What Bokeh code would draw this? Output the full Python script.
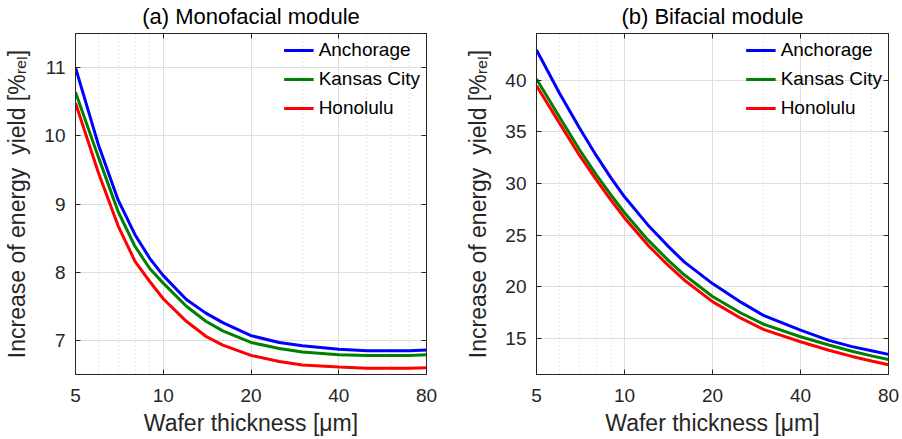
from bokeh.plotting import figure
from bokeh.models import (FixedTicker, PrintfTickFormatter, LogAxis, LinearAxis,
                          Legend, LegendItem, Range1d, CustomLabelingPolicy)
from bokeh.layouts import row
from bokeh.embed import file_html
from bokeh.resources import INLINE

# ---------------- data ----------------
thickness = [5, 6, 7, 8, 9, 10, 12, 14, 16, 20, 25, 30, 40, 50, 60, 70, 80]

mono_anchorage = [11.0, 9.86, 9.06, 8.55, 8.20, 7.95, 7.60, 7.40, 7.26, 7.07, 6.97, 6.92, 6.87, 6.85, 6.85, 6.85, 6.86]
mono_kansas    = [10.64, 9.68, 8.89, 8.38, 8.05, 7.84, 7.50, 7.28, 7.14, 6.97, 6.88, 6.83, 6.79, 6.78, 6.78, 6.78, 6.79]
mono_honolulu  = [10.48, 9.45, 8.68, 8.16, 7.86, 7.61, 7.28, 7.06, 6.93, 6.78, 6.69, 6.64, 6.61, 6.59, 6.59, 6.59, 6.60]

bi_anchorage = [42.9, 38.7, 35.4, 32.7, 30.5, 28.7, 26.0, 24.0, 22.4, 20.3, 18.5, 17.2, 15.8, 14.8, 14.2, 13.8, 13.45]
bi_kansas    = [40.1, 36.4, 33.3, 30.85, 28.85, 27.15, 24.55, 22.65, 21.15, 19.05, 17.45, 16.35, 15.15, 14.35, 13.75, 13.3, 12.95]
bi_honolulu  = [39.45, 35.8, 32.75, 30.35, 28.35, 26.65, 24.05, 22.15, 20.65, 18.55, 16.95, 15.85, 14.67, 13.85, 13.25, 12.8, 12.45]

cities = ["Anchorage", "Kansas City", "Honolulu"]
colors = ["#0000ff", "#008000", "#ff0000"]

x_major_ticks = [5, 10, 20, 40, 80]
x_minor_ticks = [6, 7, 8, 9, 30, 50, 60, 70]
mono_yticks = [7, 8, 9, 10, 11]
bi_yticks = [15, 20, 25, 30, 35, 40]

titles = ["(a) Monofacial module", "(b) Bifacial module"]
x_label = "Wafer thickness [\u03bcm]"
y_label = "Increase of energy \u00a0yield [%\u1d63\u2091\u2097]"

FONT = "Liberation Sans"
AX = "#262626"

NO_LABELS = """
for (const i of indices)
    indices.unset(i)
return indices
"""


def make_panel(title, series, yrange, yticks, border_left, border_right):
    p = figure(width=451, height=439, x_axis_type="log",
               x_range=Range1d(5, 80), y_range=Range1d(*yrange),
               output_backend="svg", toolbar_location=None,
               min_border_left=border_left, min_border_right=border_right,
               min_border_top=33, min_border_bottom=65)
    p.background_fill_color = "white"
    p.border_fill_color = "white"
    p.outline_line_color = AX
    p.outline_line_width = 1

    p.title.text = title
    p.title.align = "center"
    p.title.offset = -16
    p.title.text_font = FONT
    p.title.text_font_size = "22px"
    p.title.text_font_style = "normal"
    p.title.text_color = "#000000"
    p.title.standoff = 1

    xt = FixedTicker(ticks=x_major_ticks, minor_ticks=x_minor_ticks)
    yt = FixedTicker(ticks=yticks)

    xa = p.xaxis[0]
    xa.ticker = xt
    xa.formatter = PrintfTickFormatter(format="%d")
    ya = p.yaxis[0]
    ya.ticker = yt
    for ax in (xa, ya):
        ax.axis_line_color = AX
        ax.major_tick_line_color = AX
        ax.major_tick_in = 5
        ax.major_tick_out = 0
        ax.minor_tick_line_color = None
        ax.major_label_text_font = FONT
        ax.major_label_text_font_size = "19px"
        ax.major_label_text_color = AX
        ax.axis_label_text_font = FONT
        ax.axis_label_text_font_size = "23px"
        ax.axis_label_text_font_style = "normal"
        ax.axis_label_text_color = AX
    xa.axis_label = x_label
    xa.major_label_standoff = 10
    xa.axis_label_standoff = 5
    ya.axis_label = y_label
    ya.major_label_standoff = 10
    ya.axis_label_standoff = 11

    # box ticks on top and right (no labels)
    top = LogAxis(ticker=xt, major_label_policy=CustomLabelingPolicy(code=NO_LABELS),
                  major_label_text_font_size="0px",
                  major_label_standoff=0, major_tick_in=5, major_tick_out=0,
                  minor_tick_line_color=None, axis_line_color=AX,
                  major_tick_line_color=AX)
    right = LinearAxis(ticker=yt, major_label_policy=CustomLabelingPolicy(code=NO_LABELS),
                       major_label_text_font_size="0px",
                       major_label_standoff=0, major_tick_in=5, major_tick_out=0,
                       minor_tick_line_color=None, axis_line_color=AX,
                       major_tick_line_color=AX)
    p.add_layout(top, "above")
    p.add_layout(right, "right")

    p.xgrid.grid_line_color = "#dedede"
    p.xgrid.minor_grid_line_color = "#cfcfcf"
    p.xgrid.minor_grid_line_dash = "1 3"
    p.ygrid.grid_line_color = "#dedede"

    items = []
    for name, ys, c in zip(cities, series, colors):
        r = p.line(thickness, ys, line_color=c, line_width=3)
        items.append(LegendItem(label=name, renderers=[r]))
    leg = Legend(items=items, location="top_right")
    leg.label_text_font = FONT
    leg.label_text_font_size = "19px"
    leg.label_text_color = "#000000"
    leg.glyph_width = 30
    leg.glyph_height = 22
    leg.label_height = 22
    leg.label_standoff = 5
    leg.spacing = 7
    leg.padding = 0
    leg.margin = 6
    leg.border_line_color = None
    leg.background_fill_alpha = 0
    p.add_layout(leg)
    return p


p1 = make_panel(titles[0], [mono_anchorage, mono_kansas, mono_honolulu],
                (6.5, 11.5), mono_yticks, 75, 25)
p2 = make_panel(titles[1], [bi_anchorage, bi_kansas, bi_honolulu],
                (11.5, 44.5), bi_yticks, 85, 14)

layout = row(p1, p2)
open("out.html", "w").write(file_html(layout, INLINE))
